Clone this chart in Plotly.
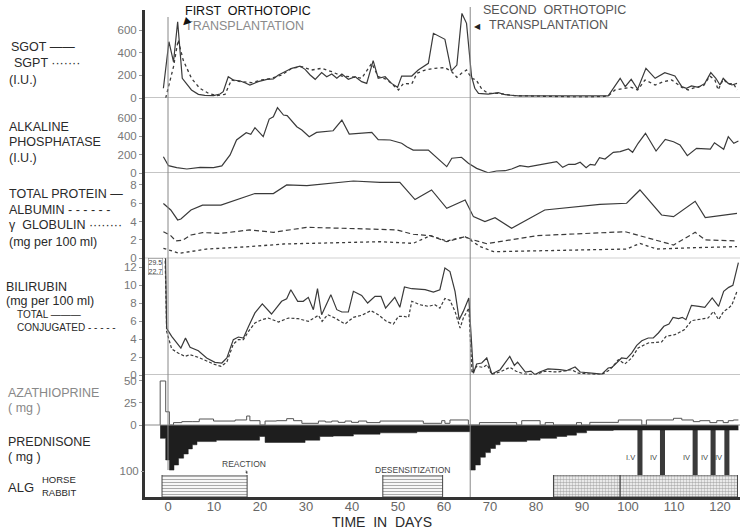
import plotly.graph_objects as go

# ---------------- DATA ----------------
sgot_day = [-1.0, 0.2, 1.2, 2.1, 3.1, 5.1, 6.6, 8.0, 9.9, 11.3,
            12.0, 13.1, 14.2, 15.7, 16.7, 17.8, 19.6, 21.5, 22.9, 24.0,
            25.4, 26.9, 28.7, 29.8, 30.9, 32.0, 33.4, 34.5, 35.6, 36.7,
            37.8, 39.2, 40.7, 42.1, 43.2, 44.6, 45.7, 47.2, 48.6, 49.9,
            50.8, 53.0, 54.4, 56.6, 57.7, 60.2, 61.6, 62.8, 63.9, 64.9,
            66.0, 66.7, 67.5, 69.6, 71.8, 73.3, 76.2, 80.4, 84.9, 89.2,
            92.8, 95.7, 98.3, 99.4, 100.7, 102.1, 103.9, 105.9, 108.0, 110.2,
            111.7, 112.7, 113.8, 115.3, 116.7, 118.0, 119.1, 120.0, 120.7, 121.8,
            122.6, 123.7]
sgot = [86, 497, 320, 673, 174, 71, 32, 24, 21, 35,
        56, 188, 159, 150, 135, 115, 144, 165, 168, 203,
        232, 262, 282, 253, 203, 165, 224, 188, 212, 174,
        212, 165, 188, 144, 129, 330, 174, 188, 129, 94,
        194, 194, 247, 306, 571, 518, 240, 291, 747, 659,
        188, 86, 41, 35, 47, 29, 18, 18, 15, 12,
        15, 18, 174, 100, 165, 77, 262, 174, 224, 194,
        100, 86, 106, 94, 129, 224, 174, 115, 174, 129,
        115, 129]

sgpt_day = [-0.5, 1.2, 2.2, 3.3, 5.1, 6.9, 8.8, 10.6, 12.4, 13.8,
            16.0, 18.2, 20.4, 22.5, 24.7, 26.9, 29.1, 31.2, 33.4, 35.6,
            37.8, 39.9, 42.1, 44.3, 45.7, 47.5, 50.1, 51.2, 53.0, 54.1,
            55.9, 58.0, 60.2, 61.7, 62.8, 63.8, 64.9, 66.0, 67.0, 68.2,
            69.6, 71.8, 75.2, 79.6, 84.3, 89.2, 94.3, 95.7, 97.2, 99.4,
            100.7, 102.1, 103.7, 105.9, 107.7, 109.5, 111.7, 113.1, 114.6, 116.4,
            117.8, 118.9, 119.6, 120.7, 121.8, 122.9, 123.7]
sgpt = [0, 277, 512, 335, 174, 86, 41, 21, 32, 159,
        144, 135, 159, 174, 203, 262, 277, 247, 262, 232,
        194, 188, 174, 306, 188, 165, 71, 129, 124, 218,
        247, 262, 268, 232, 183, 218, 247, 175, 160, 80,
        41, 41, 21, 18, 12, 9, 12, 18, 71, 86,
        94, 71, 159, 115, 144, 159, 94, 71, 94, 106,
        194, 159, 71, 165, 124, 129, 71]

alk_day = [-1.0, 0.1, 1.9, 4.1, 7.0, 9.9, 11.7, 13.5, 14.9, 17.0,
           18.0, 18.9, 20.7, 22.0, 22.9, 23.8, 25.1, 25.9, 28.0, 29.1,
           30.7, 32.3, 35.9, 37.8, 39.4, 44.3, 45.7, 48.3, 50.8, 51.9,
           53.3, 56.6, 60.6, 61.7, 63.8, 65.3, 67.1, 69.6, 71.4, 73.3,
           74.7, 76.5, 78.3, 80.2, 82.3, 84.5, 85.8, 87.1, 88.5, 89.6,
           90.9, 91.8, 92.8, 93.8, 95.0, 96.8, 98.3, 100.1, 101.0, 102.2,
           103.8, 106.1, 108.1, 109.9, 111.3, 112.9, 114.9, 117.9, 118.8, 120.8,
           121.8, 123.0, 124.0]
alk = [178, 80, 58, 44, 62, 58, 77, 197, 361, 441,
       423, 496, 397, 590, 615, 714, 634, 627, 506, 470,
       397, 444, 462, 579, 426, 444, 365, 361, 325, 288,
       251, 251, 69, 161, 172, 106, 51, 3, 22, 25,
       44, 80, 66, 84, 109, 124, 62, 95, 95, 117,
       58, 95, 87, 167, 153, 226, 233, 262, 226, 325,
       434, 240, 368, 342, 306, 189, 270, 262, 331, 259,
       397, 325, 350]

tp_day = [-1.0, 0.6, 2.1, 2.8, 5.0, 7.5, 11.5, 18.9, 22.9, 25.8,
          30.2, 40.3, 46.1, 50.4, 53.7, 57.3, 60.6, 64.6, 66.4, 68.9,
          71.1, 74.7, 81.9, 93.9, 99.7, 102.6, 107.3, 109.9, 114.6, 116.8,
          123.7]
tp = [5.97, 5.27, 4.18, 4.29, 5.27, 5.8, 5.8, 7.06, 7.06, 8.0,
      7.92, 8.43, 8.28, 8.28, 6.4, 7.45, 5.45, 6.36, 4.54, 4.0,
      4.43, 3.27, 5.27, 5.89, 6.0, 7.45, 4.72, 4.54, 6.22, 4.43,
      4.9]

alb_day = [-1.0, 0.6, 1.7, 3.2, 5.0, 7.5, 11.5, 17.7, 22.9, 30.2,
           46.1, 49.7, 53.3, 57.0, 60.6, 64.6, 65.7, 69.3, 80.2, 99.4,
           109.9, 114.6, 116.8, 123.7]
alb = [2.9, 2.47, 1.89, 1.96, 2.54, 2.8, 2.72, 3.09, 2.83, 3.38,
       3.16, 3.09, 2.62, 2.47, 1.81, 2.36, 2.1, 1.59, 2.47, 2.9,
       1.45, 2.83, 2.0, 1.89]

gg_day = [-1.0, 2.5, 8.3, 17.7, 25.1, 46.1, 53.3, 57.0, 60.6, 64.6,
          67.9, 70.8, 78.7, 99.7, 102.6, 106.2, 114.6, 123.7]
gg = [1.09, 0.54, 1.01, 1.27, 1.56, 1.81, 1.63, 2.47, 1.89, 2.36,
      1.27, 0.72, 0.8, 1.01, 1.63, 1.01, 1.16, 1.27]

bt_day = [-1.0, -0.3, 0.8, 1.9, 2.8, 3.8, 4.8, 6.6, 8.4, 10.2,
          11.7, 12.8, 14.2, 15.3, 16.4, 17.5, 18.9, 20.5, 22.5, 24.7,
          25.8, 26.7, 28.2, 29.4, 30.5, 31.6, 32.5, 33.4, 35.4, 36.7,
          37.8, 39.2, 40.3, 42.1, 43.4, 45.0, 46.3, 47.3, 49.3, 50.4,
          51.4, 53.0, 55.9, 57.7, 59.1, 60.2, 61.3, 62.4, 63.3, 64.2,
          65.4, 66.4, 67.1, 68.2, 69.3, 70.4, 72.2, 74.3, 75.3, 76.0,
          77.7, 78.9, 79.8, 80.8, 82.6, 85.2, 86.6, 88.5, 89.6, 92.1,
          94.3, 95.7, 96.5, 97.5, 98.6, 99.7, 100.8, 101.9, 103.0, 104.4,
          105.5, 106.6, 107.8, 108.9, 109.8, 111.0, 111.8, 112.6, 113.8, 115.4,
          116.7, 118.3, 119.7, 120.8, 121.9, 122.8, 124.0]
bt = [29.5, 5.2, 4.3, 3.56, 3.0, 4.1, 3.07, 2.7, 1.89, 1.41,
      1.33, 1.89, 3.93, 4.22, 4.1, 5.4, 6.9, 7.9, 6.78, 8.19,
      8.48, 9.48, 8.19, 8.19, 8.63, 7.26, 9.59, 6.7, 8.93, 7.26,
      7.0, 7.0, 9.3, 8.85, 8.0, 8.74, 8.74, 7.44, 8.63, 7.52,
      9.78, 9.59, 9.48, 9.22, 9.48, 11.9, 11.5, 9.3, 6.15, 7.07,
      8.56, 0.2, 1.22, 1.33, 1.89, 0.11, 0.59, 2.07, 1.07, 1.44,
      0.33, 0.44, 0.04, 0.33, 0.67, 0.6, 0.48, 0.89, 0.33, 0.2,
      0.1, 0.78, 0.85, 1.33, 1.89, 1.82, 2.44, 3.3, 3.81, 4.11,
      4.11, 4.67, 5.41, 5.67, 6.41, 6.26, 6.41, 6.15, 7.74, 7.63,
      7.52, 8.56, 7.63, 9.3, 9.74, 9.96, 12.5]

bc_day = [-1.0, -0.3, 0.8, 2.2, 3.7, 4.8, 6.6, 8.4, 9.9, 11.5,
          12.8, 14.2, 15.3, 16.4, 17.5, 18.9, 20.4, 21.8, 24.0, 26.2,
          28.3, 30.5, 32.7, 33.5, 34.7, 36.3, 38.5, 40.3, 42.1, 44.1,
          45.7, 47.5, 49.0, 50.1, 51.2, 52.3, 53.0, 54.8, 56.6, 58.0,
          59.1, 60.2, 61.3, 62.4, 63.5, 64.2, 65.4, 66.1, 67.1, 68.5,
          69.4, 70.4, 72.5, 74.3, 75.7, 77.5, 79.8, 81.9, 84.8, 87.7,
          89.2, 92.1, 94.3, 96.1, 97.9, 99.3, 100.8, 102.2, 104.4, 107.3,
          108.3, 110.2, 112.3, 113.8, 115.2, 117.4, 118.6, 119.7, 120.8, 121.9,
          122.6, 123.7]
bc = [22.7, 4.85, 2.9, 2.44, 2.07, 2.26, 1.96, 1.52, 1.22, 0.96,
      1.44, 3.44, 3.93, 3.93, 4.85, 5.78, 6.15, 6.33, 5.89, 6.33,
      6.26, 5.96, 6.63, 5.96, 6.7, 6.33, 5.67, 6.41, 6.63, 7.15,
      6.7, 5.96, 5.67, 6.52, 6.52, 6.41, 8.19, 7.81, 7.63, 7.81,
      7.44, 8.5, 8.3, 7.07, 5.22, 6.33, 7.44, 0.2, 0.96, 0.85,
      1.15, 0.04, 0.41, 0.85, 0.41, 0.11, 0.04, 0.41, 0.33, 0.59,
      0.2, 0.1, 0.04, 0.59, 1.7, 1.22, 1.89, 3.0, 3.56, 3.67,
      4.3, 4.48, 5.04, 6.04, 6.15, 6.33, 7.07, 6.15, 7.07, 7.44,
      7.81, 9.3]

aza_day = [-1.7, -1.7, -0.5, 0.3, 1.2, 3.0, 5.4, 6.8, 9.9, 14.6,
           17.1, 17.8, 20.0, 21.1, 23.6, 25.8, 27.3, 29.1, 32.7, 34.2,
           35.6, 37.0, 38.5, 39.9, 41.4, 43.2, 46.1, 55.5, 59.5, 60.2,
           61.3, 65.3, 67.7, 75.8, 76.9, 80.9, 82.0, 83.8, 88.8, 89.9,
           91.7, 97.9, 103.0, 104.0, 109.9, 111.7, 114.2, 115.6, 117.8, 119.3,
           120.7, 121.8, 122.9, 124.0]
aza = [0, 50, 15, 0, 2.7, 3.8, 3.8, 6.8, 4.5, 5.7,
       10.2, 4.9, 0, 4.5, 4.9, 7.2, 4.9, 1.9, 4.5, 3.4,
       4.5, 3.0, 4.5, 3.0, 4.5, 2.7, 4.5, 1.9, 4.9, 1.9,
       5.7, 0, 2.7, 0, 4.9, 0, 2.7, 0, 2.7, 0,
       3.0, 5.7, 0, 5.7, 7.6, 5.7, 3.8, 4.9, 2.7, 4.9,
       2.7, 4.9, 5.7, 5.7]

pred_day = [-1.7, -0.5, 0.3, 1.3, 2.3, 3.4, 4.4, 5.3, 6.3, 10.5,
            19.9, 21.1, 29.8, 33.0, 35.9, 40.3, 46.1, 54.1, 65.7, 66.8,
            67.9, 69.0, 70.1, 71.2, 72.2, 78.0, 80.9, 84.5, 86.7, 88.8,
            91.0, 96.8, 124.0]
pred = [29, 76, 98, 87, 72, 63, 52, 43, 36, 33,
        25, 38, 33, 25, 24, 20, 17, 14.5, 98, 87,
        70, 60, 51, 43, 36, 33, 29, 25, 22, 17,
        12, 11, 11]

iv_day = [102.6, 107.5, 114.6, 118.5, 121.5]
iv_text = ["I.V", "IV", "IV", "IV", "IV"]

alg_start = [-1.3, 46.7, 83.8, 98.3]
alg_end = [17.2, 59.7, 98.3, 123.8]
alg_kind = ["horse", "horse", "rabbit", "rabbit"]

transplant_day = [0.0, 65.7]
x_ticks = [0, 10, 20, 30, 40, 50, 60, 70, 80, 90, 100, 110, 120]

bili_offscale_text = "29.5<br>22.7"

# ---------------- LAYOUT HELPERS ----------------
W, H = 747, 531
ML, MR, MT, MB = 145, 7, 5, 34
PW = W - ML - MR
PH = H - MT - MB


def PX(px):
    return (px - ML) / PW


def PY(py):
    return (H - MB - py) / PH


FONT = "Liberation Sans, Arial, sans-serif"
DARK = "#2a2a2a"
LINE = "#3a3a3a"
ALG_TOP = 108.7  # prednisone-axis position of the ALG band top

fig = go.Figure()


def line(x, y, ax, dash="solid", width=1.2, color=LINE, shape="linear"):
    fig.add_trace(go.Scatter(x=x, y=y, mode="lines", yaxis=ax,
                             line=dict(color=color, width=width, dash=dash, shape=shape),
                             hoverinfo="skip"))


line(sgot_day, sgot, "y")
line(sgpt_day, sgpt, "y", dash="dot", width=1.3)
line(alk_day, alk, "y2")
line(tp_day, tp, "y3")
line(alb_day, alb, "y3", dash="5px,3px")
line(gg_day, gg, "y3", dash="dot", width=1.3)
line(bt_day, bt, "y4")
line(bc_day, bc, "y4", dash="3px,2px")

# prednisone (filled step, downward)
fig.add_trace(go.Scatter(x=pred_day, y=pred, yaxis="y6", mode="lines",
                         line=dict(color="#1e1e1e", width=0.5, shape="hv"),
                         fill="tozeroy", fillcolor="#1e1e1e", hoverinfo="skip"))
# IV ALG bars
fig.add_trace(go.Bar(x=iv_day, y=[ALG_TOP] * len(iv_day), base=0, width=1.1,
                     yaxis="y6", marker=dict(color="#3a3a3a", line=dict(width=0)),
                     hoverinfo="skip"))
# azathioprine (outline step)
line(aza_day, aza, "y5", width=1.0, color="#555555", shape="hv")

# ALG bands
for kind in ["horse", "rabbit"]:
    st = [s for s, k in zip(alg_start, alg_kind) if k == kind]
    ln = [e - s for s, e, k in zip(alg_start, alg_end, alg_kind) if k == kind]
    if kind == "horse":
        pat = dict(shape="-", fgcolor="#555555", bgcolor="white", size=3, solidity=0.4)
    else:
        pat = dict(shape=".", fgcolor="#666666", bgcolor="white", size=3, solidity=0.55)
    fig.add_trace(go.Bar(x=ln, base=st, y=[0.5] * len(st), orientation="h", width=1.0,
                         yaxis="y7", marker=dict(color="white", pattern=pat,
                                                 line=dict(color="#444444", width=1)),
                         hoverinfo="skip"))

tickfont = dict(family=FONT, size=11.5, color="#777777")
yax_common = dict(anchor="x", showgrid=False, zeroline=False, showline=True,
                  linecolor="#333333", linewidth=3, ticks="outside", ticklen=3,
                  tickcolor="#999999", tickwidth=1, tickfont=tickfont, fixedrange=True)

fig.update_layout(
    width=W, height=H, margin=dict(l=ML, r=MR, t=MT, b=MB),
    paper_bgcolor="white", plot_bgcolor="white", showlegend=False,
    barmode="overlay", font=dict(family=FONT, color=DARK),
    xaxis=dict(domain=[0, 1], range=[-5.0, 124.35], anchor="y5", showgrid=False,
               zeroline=False, showline=True, linecolor="#333333", linewidth=3,
               tickvals=x_ticks, ticks="", ticklabelstandoff=-5,
               tickfont=dict(family=FONT, size=13, color="#666666")),
    yaxis=dict(domain=[PY(98), PY(10)], range=[0, 777], tickvals=[0, 200, 400, 600], **yax_common),
    yaxis2=dict(domain=[PY(173), PY(98)], range=[0, 820], tickvals=[0, 200, 400, 600], **yax_common),
    yaxis3=dict(domain=[PY(258.3), PY(173)], range=[0, 9.3], tickvals=[0, 2, 4, 6, 8], **yax_common),
    yaxis4=dict(domain=[PY(375), PY(258.3)], range=[0, 12.97], tickvals=[0, 2, 4, 6, 8, 10, 12], **yax_common),
    yaxis5=dict(domain=[0, PY(375)], range=[-81.8, 56.8], tickvals=[0, 25, 50], **yax_common),
    yaxis6=dict(overlaying="y5", side="left", range=[156.5, -108.7], tickvals=[100],
                anchor="x", showgrid=False, zeroline=False, showline=False, ticks="outside",
                ticklen=3, tickcolor="#999999", tickfont=tickfont),
    yaxis7=dict(domain=[0, PY(475)], range=[0, 1], anchor="x", visible=False),
)

shapes = []
for ax in ["y", "y2", "y3", "y4", "y5"]:
    shapes.append(dict(type="line", xref="paper", x0=0, x1=1, yref=ax, y0=0, y1=0,
                       line=dict(color="#8a8a8a", width=1)))
tl_spans = [(17, 470), (7, 497)]
for d, (top, bot) in zip(transplant_day, tl_spans):
    shapes.append(dict(type="line", xref="x", x0=d, x1=d, yref="paper",
                       y0=PY(bot), y1=PY(top), line=dict(color="#888888", width=1)))
fig.update_layout(shapes=shapes)

ann = []


def label(text, px, py, size=12.5, color=DARK, xanchor="left"):
    ann.append(dict(text=text, x=PX(px), y=PY(py), xref="paper", yref="paper",
                    xanchor=xanchor, yanchor="middle", showarrow=False,
                    font=dict(family=FONT, size=size, color=color)))


label("SGOT ——", 9, 47)
label("SGPT ·······", 12, 63)
label("(I.U.)", 7, 80)
label("ALKALINE", 7, 127)
label("PHOSPHATASE", 7, 142)
label("(I.U.)", 7, 158)
label("TOTAL PROTEIN —", 7, 194)
label("ALBUMIN - - - - - -", 7, 210)
label("γ  GLOBULIN ········", 7, 225)
label("(mg per 100 ml)", 7, 242)
label("BILIRUBIN", 4, 287)
label("(mg per 100 ml)", 4, 301)
label("TOTAL ———", 15, 314, size=10)
label("CONJUGATED - - - - -", 15, 327, size=10)
label("AZATHIOPRINE", 6, 393, color="#888888")
label("( mg )", 6, 408, color="#888888")
label("PREDNISONE", 6, 442)
label("( mg )", 6, 457)
label("ALG", 6, 487, size=13)
label("HORSE", 40, 479, size=9.5)
label("RABBIT", 40, 492, size=9.5)

label("FIRST  ORTHOTOPIC", 183, 11, size=12.5, color="#111111")
label("TRANSPLANTATION", 183, 26, size=12.5, color="#8a8a8a")
label("SECOND  ORTHOTOPIC", 481, 10, size=12.5, color="#555555")
label("TRANSPLANTATION", 487, 25, size=12.5, color="#555555")
ann.append(dict(text="◀", x=PX(176), y=PY(13), xref="paper", yref="paper", showarrow=False,
                textangle=-45, font=dict(size=10, color="#111111")))
ann.append(dict(text="◀", x=PX(477), y=PY(20), xref="paper", yref="paper", showarrow=False,
                font=dict(size=8, color="#222222")))

label("TIME  IN  DAYS", 382, 522, size=14, xanchor="center")

# bilirubin off-scale values
ann.append(dict(text=bili_offscale_text, x=PX(148), y=PY(266), xref="paper", yref="paper",
                xanchor="left", yanchor="middle", showarrow=False, align="left",
                bordercolor="#777777", borderwidth=0.5, borderpad=0,
                font=dict(family=FONT, size=7, color="#444444")))

# IV labels
for d, t in zip(iv_day, iv_text):
    ann.append(dict(text=t, x=d - 0.7, y=PY(457), xref="x", yref="paper", xanchor="right",
                    yanchor="middle", showarrow=False,
                    font=dict(family=FONT, size=7.5, color="#444444")))

# ALG annotations
ann.append(dict(text="REACTION", x=alg_end[0], y=PY(474), xref="x", yref="paper",
                showarrow=True, arrowhead=2, arrowsize=0.6, arrowwidth=0.8, arrowcolor="#444",
                ax=-3, ay=-10, font=dict(family=FONT, size=8.5, color="#444444")))
ann.append(dict(text="DESENSITIZATION", x=(alg_start[1] + alg_end[1]) / 2, y=PY(470),
                xref="x", yref="paper", showarrow=False, yanchor="middle",
                font=dict(family=FONT, size=8.5, color="#444444")))

fig.update_layout(annotations=ann)
fig.write_html("out.html", config={"displayModeBar": False},
               post_script="document.body.style.margin='0';document.body.style.overflow='hidden';")
